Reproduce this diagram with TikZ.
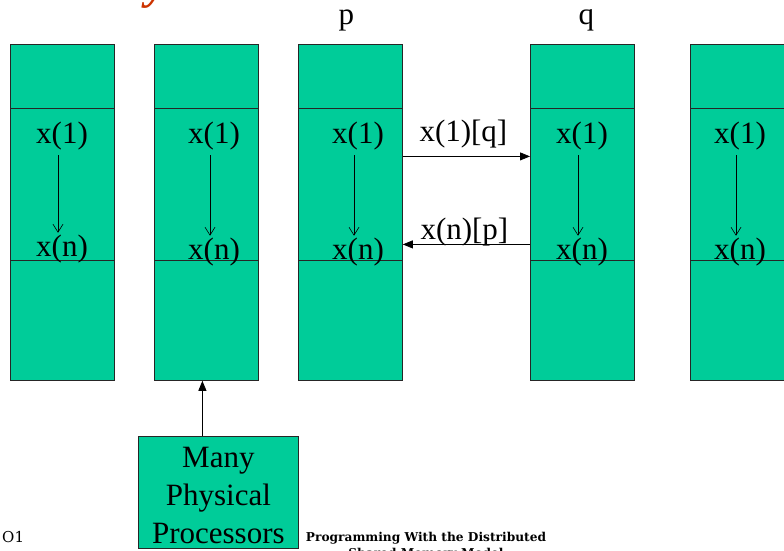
\documentclass[tikz,border=0pt]{standalone}
\usepackage{fontspec}
\setmainfont{Liberation Serif}
\newfontfamily\footfont{DejaVu Serif}
\usetikzlibrary{arrows.meta}
\definecolor{memG}{RGB}{0,204,153}
\definecolor{titleR}{RGB}{204,51,0}

\begin{document}
\begin{tikzpicture}[x=1pt,y=-1pt,>={Triangle[length=10pt,width=8pt]},
  blk/.style={draw=black!85,fill=memG,minimum width=104pt,inner sep=0pt,anchor=north west,line width=0.8pt},
  var/.style={font=\fontsize{31}{31}\selectfont,inner sep=0pt},
  walk/.style={-{Straight Barb[length=8pt,width=10pt]},line width=0.6pt},
  foot/.style={font=\footfont\bfseries\fontsize{12.2}{14}\selectfont,inner sep=0pt,anchor=base}]
\useasboundingbox (0,0) rectangle (784,550);
% memory columns, one per processor
\foreach \c/\x in {a/10,b/154,c/298,d/530,e/690} {
  \node[blk,minimum height=64pt] (\c-top) at (\x,44) {};
  \node[blk,minimum height=152pt] (\c-mid) at (\x,108) {};
  \node[blk,minimum height=120pt] (\c-bot) at (\x,260) {};
}
% x(1) ... x(n) inside each column
\foreach \c/\tx/\ny in {a/62/249,b/214/252,c/358/252,d/582/252,e/740/252} {
  \node[var] (\c-one) at (\tx,136) {x(1)};
  \node[var] (\c-n) at (\tx,\ny) {x(n)};
  \draw[walk] ([xshift=-4pt,yshift=-5pt]\c-one.south) -- ([xshift=-4pt,yshift=2pt]\c-n.north);
}
\node[var,anchor=base] (plab) at ([xshift=-4pt,yshift=20pt]c-top.north) {p};
\node[var,anchor=base] (qlab) at ([xshift=4pt,yshift=20pt]d-top.north) {q};
% remote references between p and q
\draw[->,line width=0.8pt] ([yshift=28pt]c-mid.east) -- ([yshift=28pt]d-mid.west)
  node[var,midway,above=8pt,xshift=-3pt] (send) {x(1)[q]};
\draw[->,line width=0.8pt] ([yshift=-60pt]d-mid.west) -- ([yshift=-60pt]c-mid.east)
  node[var,midway,above=-2pt,xshift=-2pt] (back) {x(n)[p]};
% processors
\node[draw=black!85,fill=memG,line width=0.8pt,minimum width=160pt,minimum height=112pt,anchor=north west] (proc) at (138,436) {};
\node[align=center,inner sep=0pt,font=\fontsize{31}{38}\selectfont] (proctxt) at ([yshift=-3pt]proc.center) {Many\\Physical\\Processors};
\draw[->,line width=0.8pt] ([xshift=-16pt]proc.north) -- ([xshift=-16pt]proc.north |- b-bot.south);
% title and footer fragments
\node[text=titleR,font=\bfseries\itshape\fontsize{46}{46}\selectfont,inner sep=0pt,anchor=base] (ttl) at (157,-2) {y};
\node[font=\footfont\fontsize{15}{16}\selectfont,inner sep=0pt,anchor=base west] (pg) at (2,542) {O1};
\node[foot] (ft1) at (426,541) {Programming With the Distributed};
\node[foot] (ft2) at (426,557) {Shared Memory Model};
\end{tikzpicture}
\end{document}
